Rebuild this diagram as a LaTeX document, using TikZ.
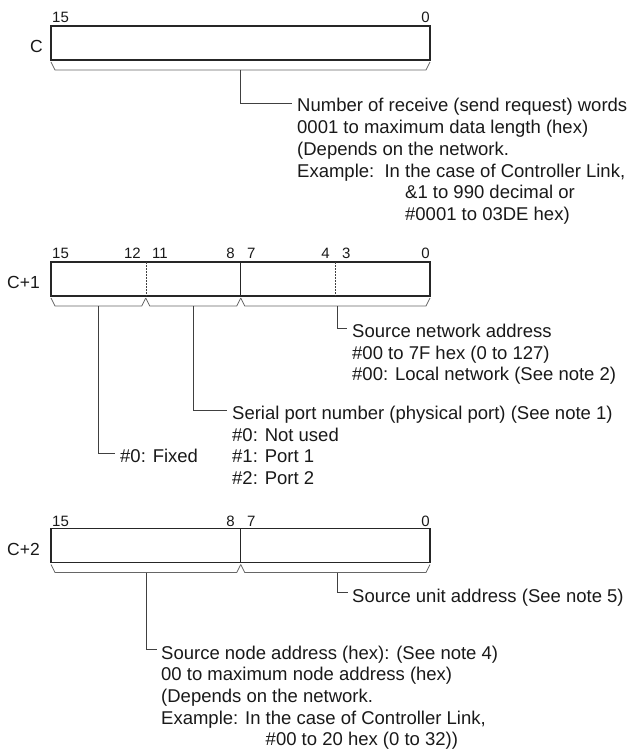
\documentclass[tikz,border=0pt]{standalone}
\usepackage{fontspec}
\setmainfont{Liberation Sans}
\newcommand\fieldbrace[3]{\draw[brace] (#1,#3+2) -- (#1+4,#3+10) -- (#2-4,#3+10) -- (#2,#3+2);}
\begin{document}
\begin{tikzpicture}[x=1pt,y=-1pt,
  word/.style={draw=black!85, line width=1.7pt, minimum width=379pt, minimum height=34pt, inner sep=0pt},
  brace/.style={draw=black!60, line width=0.8pt},
  lead/.style={draw=black!75, line width=0.9pt},
  divline/.style={draw=black!85, line width=0.9pt},
  dotline/.style={draw=black!75, line width=0.9pt, dash pattern=on 1.6pt off 1.4pt},
  bitlbl/.style={font=\fontsize{15}{17}\selectfont, inner sep=0pt, text=black!90},
  rowlbl/.style={font=\fontsize{17.5}{20}\selectfont, inner sep=0pt, anchor=east, text=black!90},
  desc/.style={font=\fontsize{18.5}{21.7}\selectfont, inner sep=0pt, anchor=base west, text=black!90}]
\useasboundingbox (0,0) rectangle (631,754);

% ---------- word C ----------
\node[word] (wC) at (240.5,43) {};
\node[rowlbl] (lC) at (43,46) {C};
\node[bitlbl, anchor=base west] (c15) at (52,23) {15};
\node[bitlbl, anchor=base east] (c0) at (430,23) {0};
\fieldbrace{51}{430}{60}
\coordinate (bC) at (240.5,70);
\coordinate (eC) at (292,103);
\draw[lead] (bC) |- (eC);
\node[desc] (tC) at (297,112) {\begin{tabular}[t]{@{}l@{}}
Number of receive (send request) words\\
0001 to maximum data length (hex)\\
(Depends on the network.\\
Example:\ \ In the case of Controller Link,\\
\hphantom{Example:\ \ In\ }\&1 to 990 decimal or\\
\hphantom{Example:\ \ In\ }\#0001 to 03DE hex)
\end{tabular}};

% ---------- word C+1 ----------
\node[word] (wD) at (240.5,279) {};
\node[rowlbl] (lD) at (40,282) {C+1};
\node[bitlbl, anchor=base west] (d15) at (52,258) {15};
\node[bitlbl, anchor=base east] (d12) at (141,258) {12};
\node[bitlbl, anchor=base west] (d11) at (152,258) {11};
\node[bitlbl, anchor=base east] (d8) at (235,258) {8};
\node[bitlbl, anchor=base west] (d7) at (247,258) {7};
\node[bitlbl, anchor=base east] (d4) at (330,258) {4};
\node[bitlbl, anchor=base west] (d3) at (342,258) {3};
\node[bitlbl, anchor=base east] (d0) at (430,258) {0};
\draw[dotline] (146,262) -- (146,296);
\draw[divline] (240.75,262) -- (240.75,296);
\draw[dotline] (335.75,262) -- (335.75,296);
\fieldbrace{51}{145.75}{296}
\fieldbrace{145.75}{240.75}{296}
\fieldbrace{240.75}{430}{296}
\coordinate (bD1) at (98.4,306);
\coordinate (bD2) at (193.3,306);
\coordinate (bD3) at (337.5,306);
\coordinate (eD3) at (347,328);
\coordinate (eD2) at (227,410);
\coordinate (eD1) at (115,453.5);
\draw[lead] (bD3) |- (eD3);
\draw[lead] (bD2) |- (eD2);
\draw[lead] (bD1) |- (eD1);
\node[desc] (tD3) at (352,337.5) {\begin{tabular}[t]{@{}l@{}}
Source network address\\
\#00 to 7F hex (0 to 127)\\
\#00: Local network (See note 2)
\end{tabular}};
\node[desc] (tD2) at (232,419.5) {\begin{tabular}[t]{@{}l@{}}
Serial port number (physical port) (See note 1)\\
\#0: Not used\\
\#1: Port 1\\
\#2: Port 2
\end{tabular}};
\node[desc] (tD1) at (120,462.9) {\#0: Fixed};

% ---------- word C+2 ----------
\node[word] (wE) at (240.5,545.5) {};
\node[rowlbl] (lE) at (40,549) {C+2};
\node[bitlbl, anchor=base west] (e15) at (52,526) {15};
\node[bitlbl, anchor=base east] (e8) at (235,526) {8};
\node[bitlbl, anchor=base west] (e7) at (247,526) {7};
\node[bitlbl, anchor=base east] (e0) at (430,526) {0};
\draw[divline] (240.75,529) -- (240.75,562.5);
\fieldbrace{51}{240.75}{562.5}
\fieldbrace{240.75}{430}{562.5}
\coordinate (bE1) at (146,572.5);
\coordinate (bE2) at (337.5,572.5);
\coordinate (eE2) at (348,592.5);
\coordinate (eE1) at (157,649.5);
\draw[lead] (bE2) |- (eE2);
\draw[lead] (bE1) |- (eE1);
\node[desc] (tE2) at (352,602) {Source unit address (See note 5)};
\node[desc] (tE1) at (161,659) {\begin{tabular}[t]{@{}l@{}}
Source node address (hex): (See note 4)\\
00 to maximum node address (hex)\\
(Depends on the network.\\
Example: In the case of Controller Link,\\
\hphantom{Example: In\ }\#00 to 20 hex (0 to 32))
\end{tabular}};
\end{tikzpicture}
\end{document}
